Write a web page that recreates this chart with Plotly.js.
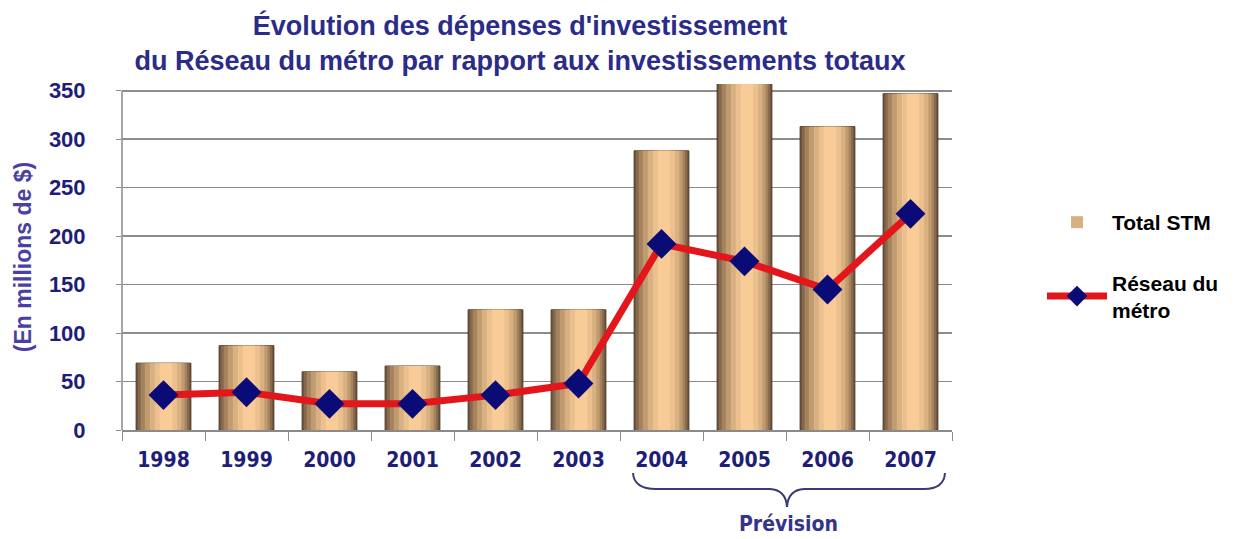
<!DOCTYPE html>
<html>
<head>
<meta charset="utf-8">
<script src="https://cdn.plot.ly/plotly-3.0.1.min.js"></script>
<style>
  html, body { margin: 0; padding: 0; background: #fff; }
  #chart { width: 1244px; height: 539px; }
</style>
</head>
<body>
<div id="chart"></div>
<script>
// Données (millions de $)
const annees = ['1998', '1999', '2000', '2001', '2002', '2003', '2004', '2005', '2006', '2007'];
const totalSTM = [69, 87, 60, 66, 124, 124, 288, 357, 313, 347];
const reseauMetro = [36, 39, 27, 27, 36, 48, 192, 174, 145, 223];
const ticksY = [0, 50, 100, 150, 200, 250, 300, 350];

const bleu = '#2b2b8a';
const police = 'Liberation Sans, Arial, sans-serif';
const policeEtroite = 'DejaVu Sans Condensed, Liberation Sans Narrow, Arial Narrow, Liberation Sans, sans-serif';

// zone du graphique en pixels
const gauche = 122, droite = 952, haut = 84, bas = 430;
const px = x => (x - gauche) / (droite - gauche);
const py = y => (bas - y) / (bas - haut);

// couches pour l'effet cylindre (largeur, décalage, couleur)
const couches = [
    [0.66, -0.33, '#6c533b'],
    [0.62, -0.31, '#86694c'],
    [0.56, -0.275, '#a3825d'],
    [0.48, -0.225, '#bf9b6f'],
    [0.38, -0.165, '#d8b081'],
    [0.27, -0.105, '#ebc08e'],
    [0.15, -0.045, '#f8cb97']
];

const traces = couches.map((c, i) => ({
    type: 'bar',
    x: annees,
    y: totalSTM,
    width: c[0],
    offset: c[1],
    marker: {
        color: c[2],
        line: { width: i === 0 ? 1 : 0, color: '#4e3b28' }
    },
    name: 'Total STM',
    legendgroup: 'stm',
    legendrank: 1,
    showlegend: i === 4,
    hoverinfo: i === 0 ? 'x+y' : 'skip'
}));

traces.push({
    type: 'scatter',
    mode: 'lines+markers',
    x: annees,
    y: reseauMetro,
    name: 'Réseau du<br>métro',
    legendgroup: 'metro',
    legendrank: 2,
    line: { color: '#e3161c', width: 7 },
    marker: { symbol: 'diamond', size: 23, color: '#0b0b78' }
});

// accolade « Prévision »
const accolade = [
    'M', px(633), py(473),
    'Q', px(634), py(489), px(656), py(489),
    'L', px(770), py(489),
    'Q', px(786), py(490), px(787), py(507),
    'Q', px(788), py(490), px(804), py(489),
    'L', px(924), py(489),
    'Q', px(944), py(489), px(945), py(473)
].join(' ');

const layout = {
    width: 1244,
    height: 539,
    margin: { l: gauche, r: 1244 - droite, t: haut, b: 539 - bas },
    paper_bgcolor: '#fff',
    plot_bgcolor: '#fff',
    barmode: 'overlay',
    title: {
        text: "Évolution des dépenses d'investissement<br>du Réseau du métro par rapport aux investissements totaux",
        font: { family: police, size: 27, color: bleu, weight: 'bold' },
        x: px(520),
        xref: 'paper',
        xanchor: 'center',
        yref: 'container',
        y: 0.935,
        yanchor: 'top'
    },
    xaxis: {
        type: 'category',
        range: [-0.5, 9.5],
        showgrid: false,
        showline: true,
        linecolor: '#8a8a8a',
        linewidth: 1.5,
        ticks: 'outside',
        tickson: 'boundaries',
        ticklen: 9,
        tickcolor: '#8a8a8a',
        ticklabelstandoff: 10,
        tickfont: { family: policeEtroite, size: 21, color: '#1e1e78', weight: 'bold' },
        fixedrange: true
    },
    yaxis: {
        range: [0, 357],
        tickvals: ticksY,
        showgrid: true,
        gridcolor: '#8c8c8c',
        gridwidth: 1.5,
        zeroline: false,
        showline: false,
        ticks: 'outside',
        ticklen: 5,
        tickcolor: '#8c8c8c',
        ticklabelstandoff: 26,
        tickfont: { family: police, size: 22, color: '#1e1e78', weight: 'bold' },
        title: {
            text: '(En millions de $)',
            font: { family: police, size: 23, color: '#4b3fa3', weight: 'bold' },
            standoff: 10
        },
        fixedrange: true
    },
    legend: {
        x: px(1042),
        y: py(202),
        xanchor: 'left',
        yanchor: 'top',
        traceorder: 'grouped',
        tracegroupgap: 30,
        itemwidth: 60,
        font: { family: police, size: 21, color: '#000', weight: 'bold' },
        bgcolor: 'rgba(0,0,0,0)'
    },
    shapes: [
        {
            type: 'line', xref: 'paper', yref: 'y',
            x0: 0, x1: 0, y0: 0, y1: 350,
            line: { color: '#8a8a8a', width: 1.5 }
        },
        {
            type: 'line', xref: 'paper', yref: 'y',
            x0: 1, x1: 1, y0: 0, y1: -5,
            line: { color: '#8a8a8a', width: 1.5 }
        },
        {
            type: 'path', xref: 'paper', yref: 'paper',
            path: accolade,
            line: { color: '#3a3a78', width: 2 }
        }
    ],
    annotations: [
        {
            text: 'Prévision',
            xref: 'paper', yref: 'paper',
            x: px(788), y: py(524),
            xanchor: 'center', yanchor: 'middle',
            showarrow: false,
            font: { family: policeEtroite, size: 21, color: '#34348a', weight: 'bold' }
        }
    ],
    showlegend: true
};

Plotly.newPlot('chart', traces, layout, { displayModeBar: false, staticPlot: true });
</script>
</body>
</html>
